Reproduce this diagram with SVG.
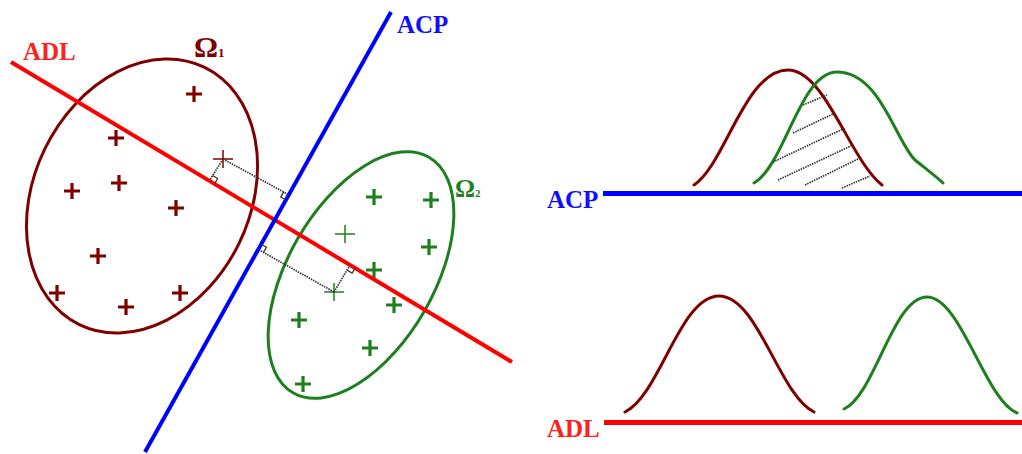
<svg xmlns="http://www.w3.org/2000/svg" width="1022" height="454" viewBox="0 0 1022 454">
<style>
.lbl{font-family:"Liberation Serif","Times New Roman",serif;font-weight:bold;font-size:25px}
.red{fill:#ff2020}
.blue{fill:#1010ff}
.om1{font-family:"Liberation Serif","Times New Roman",serif;font-weight:bold;fill:#800000}
.om2{font-family:"Liberation Serif","Times New Roman",serif;font-weight:bold;fill:#1f7f1f}
.pb{stroke:#800000;stroke-width:3.2;fill:none}
.pbt{stroke:#800000;stroke-width:1.5;fill:none}
.pg{stroke:#1f7f1f;stroke-width:3.2;fill:none}
.pgt{stroke:#1f7f1f;stroke-width:1.5;fill:none}
.dot{stroke:#333;stroke-width:1.7;stroke-dasharray:1.5 1;fill:none}
.ra{stroke:#333;stroke-width:1.2;fill:none}
.cb{stroke:#800000;stroke-width:3;fill:none;stroke-linecap:round}
.cg{stroke:#1f7f1f;stroke-width:3;fill:none;stroke-linecap:round}
</style>
<defs>
<path id="pl" d="M-8,0H8M0,-8V8"/>
<path id="plt" d="M-10,0H10M0,-9V9"/>
</defs>

<g id="omega1-cluster">
<ellipse cx="142" cy="196" rx="108" ry="143" transform="rotate(26 142 196)" fill="none" stroke="#800000" stroke-width="3"/>
<text class="om1" x="194" y="57" font-size="30">Ω<tspan font-size="13">1</tspan></text>
<g class="pb">
<use href="#pl" x="194" y="94"/>
<use href="#pl" x="116" y="138"/>
<use href="#pl" x="72" y="191"/>
<use href="#pl" x="119" y="183"/>
<use href="#pl" x="176" y="208"/>
<use href="#pl" x="98" y="256"/>
<use href="#pl" x="57" y="293"/>
<use href="#pl" x="126" y="307"/>
<use href="#pl" x="180" y="293"/>
</g>
<use href="#plt" x="223" y="159" class="pbt"/>
</g>

<g id="omega2-cluster">
<ellipse cx="361" cy="275" rx="73" ry="136" transform="rotate(30 361 275)" fill="none" stroke="#1f7f1f" stroke-width="3"/>
<text class="om2" x="455" y="197" font-size="25">Ω<tspan font-size="11">2</tspan></text>
<g class="pg">
<use href="#pl" x="374" y="197"/>
<use href="#pl" x="431" y="200"/>
<use href="#pl" x="429" y="247"/>
<use href="#pl" x="374" y="270"/>
<use href="#pl" x="394" y="305"/>
<use href="#pl" x="299" y="320"/>
<use href="#pl" x="370" y="348"/>
<use href="#pl" x="303" y="384"/>
</g>
<use href="#plt" x="345" y="234" class="pgt"/>
<use href="#plt" x="334" y="292" class="pgt"/>
</g>

<g id="connectors">
<line id="adl-axis" x1="11" y1="62" x2="512" y2="362" stroke="#ff0000" stroke-width="4"/>
<line id="acp-axis" x1="391" y1="12" x2="145" y2="452" stroke="#0000ff" stroke-width="4"/>
<line class="dot" x1="223" y1="159" x2="209.5" y2="180.5"/>
<line class="dot" x1="223" y1="159" x2="288.8" y2="194.8"/>
<line class="dot" x1="334" y1="292" x2="350.1" y2="264.9"/>
<line class="dot" x1="334" y1="292" x2="258.3" y2="249.5"/>
<polyline class="ra" points="212.6,175.4 217.7,178.5 214.6,183.6"/>
<polyline class="ra" points="283.6,191.9 280.7,197.1 285.9,200"/>
<polyline class="ra" points="263.5,252.4 266.4,247.2 261.2,244.3"/>
<polyline class="ra" points="347,270 352.1,273.1 355.2,268"/>
</g>

<g id="axis-labels">
<text class="lbl red" x="23" y="60">ADL</text>
<text class="lbl blue" x="397" y="33">ACP</text>
</g>

<g id="acp-projection">
<line x1="603" y1="193.5" x2="1022" y2="193.5" stroke="#0000ff" stroke-width="5"/>
<text class="lbl blue" x="547" y="208">ACP</text>
<path class="cb" d="M694,185 C725,165 745,70 788,70 C825,70 850,160 882,185"/>
<path class="cg" d="M754,183 C785,165 800,72 837,72 C880,72 895,140 915,160 C930,172 938,178 943,183"/>
<g class="dot">
<line x1="803" y1="105" x2="827" y2="95"/>
<line x1="793" y1="133" x2="835" y2="113"/>
<line x1="773" y1="162" x2="845" y2="128"/>
<line x1="778" y1="180" x2="853" y2="145"/>
<line x1="805" y1="185" x2="860" y2="158"/>
<line x1="842" y1="188" x2="870" y2="176"/>
</g>
</g>

<g id="adl-projection">
<line x1="604" y1="422.5" x2="1022" y2="422.5" stroke="#ff0000" stroke-width="5"/>
<text class="lbl red" x="547" y="437">ADL</text>
<path class="cb" d="M625,412 C660,395 680,296 719,296 C758,296 779,395 814,412"/>
<path class="cg" d="M844,409 C875,395 893,297 927,297 C961,297 985,400 1017,413"/>
</g>
</svg>
